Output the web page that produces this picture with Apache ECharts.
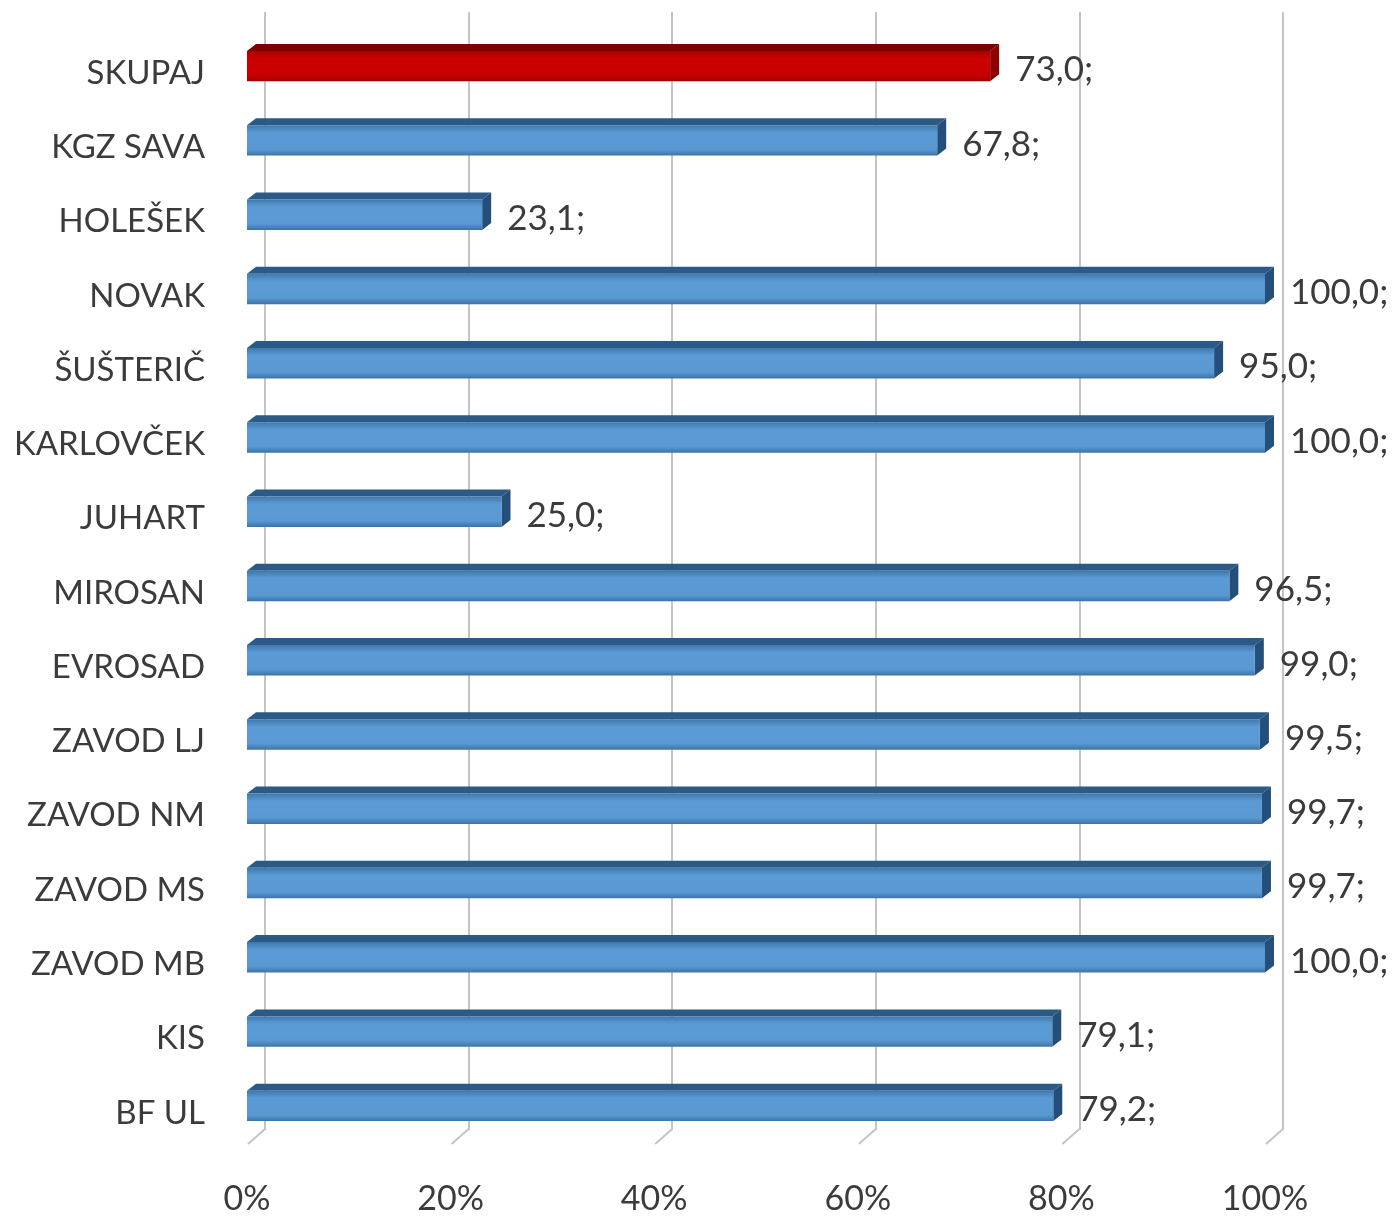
<!DOCTYPE html>
<html>
<head>
<meta charset="utf-8">
<script src="https://cdn.jsdelivr.net/npm/echarts@6/dist/echarts.min.js"></script>
<style>html,body{margin:0;padding:0;background:#fff;}#c{width:1393px;height:1216px;}</style>
</head>
<body>
<div id="c"></div>
<script>
const categories = ['SKUPAJ','KGZ SAVA','HOLEŠEK','NOVAK','ŠUŠTERIČ','KARLOVČEK','JUHART','MIROSAN','EVROSAD','ZAVOD LJ','ZAVOD NM','ZAVOD MS','ZAVOD MB','KIS','BF UL'];
const values = [73.0, 67.8, 23.1, 100.0, 95.0, 100.0, 25.0, 96.5, 99.0, 99.5, 99.7, 99.7, 100.0, 79.1, 79.2];
const highlight = ['SKUPAJ'];
const ticks = [0, 20, 40, 60, 80, 100];

const FONT = 'Lato';
const TXT = '#3b3b3b';
const DX = 9, DY = -7;

const chart = echarts.init(document.getElementById('c'), null, {renderer: 'canvas'});

function fmt(v){ return v.toFixed(1).replace('.', ',') + ';'; }

const option = {
  backgroundColor: '#ffffff',
  animation: false,
  grid: [
    {left: 247, right: 128, top: 36, bottom: 65},
    {left: 265, right: 110, top: 12, bottom: 86}
  ],
  xAxis: [
    {gridIndex: 0, type: 'value', min: 0, max: 100, interval: 20,
     axisLine: {show: false}, axisTick: {show: false}, splitLine: {show: false},
     axisLabel: {formatter: '{value}%', fontFamily: FONT, fontSize: 34, color: TXT, margin: 32}},
    {gridIndex: 1, type: 'value', min: 0, max: 100, interval: 20,
     axisLine: {show: false}, axisTick: {show: false}, axisLabel: {show: false},
     splitLine: {show: true, lineStyle: {color: '#c4c4c4', width: 2}}}
  ],
  yAxis: [
    {gridIndex: 0, type: 'category', data: categories, inverse: true,
     axisLine: {show: false}, axisTick: {show: false}, splitLine: {show: false},
     axisLabel: {fontFamily: FONT, fontSize: 33, color: TXT, margin: 42, align: 'right'}},
    {gridIndex: 1, type: 'value', min: 0, max: 1, show: false}
  ],
  series: [
    {
      type: 'custom', xAxisIndex: 0, yAxisIndex: 0, z: 1,
      data: ticks.map(t => [t]),
      renderItem: function(params, api){
        const cs = params.coordSys;
        const p = api.coord([api.value(0), 0]);
        const yb = cs.y + cs.height - 4;
        return {type: 'line', shape: {x1: p[0] + 18, y1: yb - 17, x2: p[0] + 1, y2: yb - 2},
                style: {stroke: '#c4c4c4', lineWidth: 2}};
      }
    },
    {
      type: 'custom', xAxisIndex: 0, yAxisIndex: 0, z: 5,
      data: values.map((v, i) => [v, i]),
      renderItem: function(params, api){
        const v = api.value(0), idx = api.value(1);
        const p0 = api.coord([0, idx]);
        const p1 = api.coord([v, idx]);
        const band = api.size([0, 1])[1];
        const h = band * 0.41;
        const x0 = p0[0], x1 = p1[0];
        const y = p0[1] - h / 2 - 7;
        const red = highlight.indexOf(categories[idx]) >= 0;
        const front = red
          ? new echarts.graphic.LinearGradient(0,0,0,1,[{offset:0,color:'#a80000'},{offset:0.25,color:'#cc0000'},{offset:0.8,color:'#c80000'},{offset:1,color:'#a00000'}])
          : new echarts.graphic.LinearGradient(0,0,0,1,[{offset:0,color:'#3f78ad'},{offset:0.25,color:'#5b9bd5'},{offset:0.8,color:'#5a98d2'},{offset:1,color:'#3d73a6'}]);
        const top = red ? '#7a0000' : '#2b5a86';
        const side = red ? '#8f0000' : '#234f7a';
        return {
          type: 'group',
          children: [
            {type: 'polygon', shape: {points: [[x0, y], [x0 + DX, y + DY], [x1 + DX, y + DY], [x1, y]]}, style: {fill: top}},
            {type: 'polygon', shape: {points: [[x1, y], [x1 + DX, y + DY], [x1 + DX, y + DY + h], [x1, y + h]]}, style: {fill: side}},
            {type: 'rect', shape: {x: x0, y: y, width: x1 - x0, height: h}, style: {fill: front}},
            {type: 'text', x: x1 + DX + 16, y: p0[1] - 3,
             style: {text: fmt(v), fontFamily: FONT, fontSize: 35, fill: TXT, verticalAlign: 'middle', align: 'left'}}
          ]
        };
      }
    }
  ]
};
chart.setOption(option);
</script>
</body>
</html>
